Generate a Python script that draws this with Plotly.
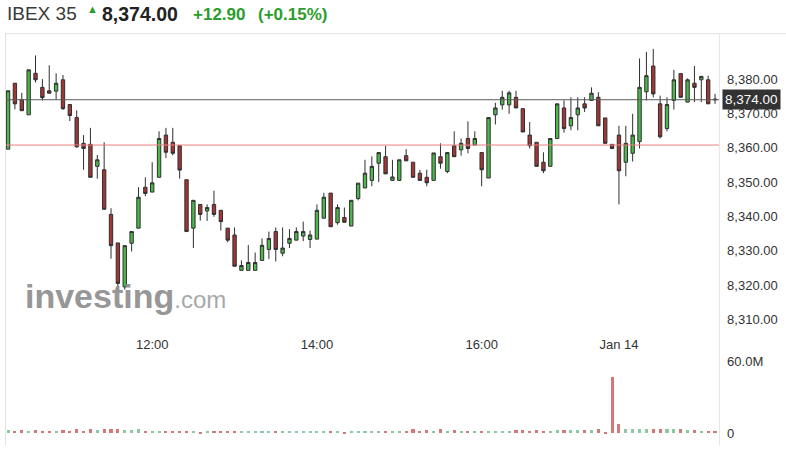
import pandas as pd
import plotly.graph_objects as go

# 5 minute bars, Jan 13 10:15 -> 17:35 and Jan 14 09:00 -> 10:10
day1 = pd.date_range("2016-01-13 10:15", "2016-01-13 17:35", freq="5min")
day2 = pd.date_range("2016-01-14 09:00", "2016-01-14 10:10", freq="5min")
times = day1.append(day2).strftime("%Y-%m-%d %H:%M").tolist()

opens = [8359.6, 8378.8, 8374.0, 8369.6, 8381.7, 8377.6, 8376.6, 8376.5, 8379.8, 8372.6,
         8368.8, 8361.3, 8361.0, 8354.6, 8353.6, 8340.6, 8332.3, 8319.5, 8332.2, 8336.6,
         8348.5, 8347.1, 8351.4, 8363.7, 8361.6, 8360.6, 8350.7, 8336.6, 8343.5, 8341.6,
         8343.5, 8341.8, 8336.6, 8334.6, 8324.3, 8324.3, 8324.3, 8327.2, 8330.4, 8335.6,
         8329.3, 8332.2, 8333.1, 8334.3, 8333.3, 8333.4, 8339.5, 8346.8, 8338.2, 8339.7,
         8337.2, 8345.2, 8348.3, 8350.5, 8355.5, 8357.4, 8350.5, 8350.5, 8357.7, 8355.8,
         8352.6, 8351.4, 8350.5, 8357.4, 8353.1, 8360.6, 8359.4, 8362.7, 8360.8, 8358.6,
         8351.2, 8369.6, 8372.5, 8372.5, 8374.7, 8371.4, 8363.7, 8361.6, 8355.8, 8354.6,
         8362.7, 8371.6, 8366.4, 8369.6, 8372.8, 8373.8, 8374.7, 8368.7, 8361.0, 8363.7,
         8355.8, 8358.4, 8361.8, 8376.3, 8383.8, 8372.8, 8365.6, 8373.8, 8381.6, 8373.3,
         8378.8, 8379.8, 8379.8, 8374.2]
highs = [8376.6, 8378.8, 8376.0, 8382.7, 8386.9, 8380.0, 8384.0, 8381.7, 8381.2, 8372.6,
         8370.9, 8363.7, 8365.8, 8357.9, 8361.6, 8342.4, 8332.3, 8331.5, 8335.6, 8348.5,
         8351.4, 8355.8, 8364.8, 8365.8, 8365.8, 8360.6, 8350.7, 8344.7, 8343.5, 8343.5,
         8347.5, 8341.8, 8336.6, 8336.8, 8327.2, 8331.7, 8329.5, 8333.6, 8335.6, 8336.8,
         8336.8, 8336.3, 8336.8, 8338.5, 8335.9, 8343.5, 8346.9, 8346.8, 8343.5, 8342.6,
         8344.7, 8349.7, 8356.5, 8357.5, 8358.6, 8360.6, 8356.5, 8356.5, 8359.6, 8355.8,
         8353.6, 8353.6, 8358.5, 8361.3, 8358.6, 8364.8, 8362.7, 8367.7, 8364.8, 8358.6,
         8368.8, 8373.1, 8376.6, 8376.6, 8376.6, 8371.4, 8367.5, 8361.6, 8358.7, 8362.7,
         8372.8, 8373.8, 8374.7, 8374.7, 8374.7, 8377.6, 8376.2, 8368.7, 8361.0, 8366.4,
         8366.4, 8369.9, 8386.0, 8387.9, 8388.8, 8375.2, 8374.7, 8382.7, 8381.6, 8380.2,
         8383.8, 8380.8, 8381.0, 8375.7]
lows = [8359.6, 8371.2, 8370.8, 8369.6, 8379.0, 8373.8, 8375.9, 8374.0, 8371.0, 8367.8,
        8360.0, 8353.6, 8351.4, 8351.0, 8342.0, 8327.7, 8318.6, 8318.7, 8329.8, 8336.6,
        8345.9, 8347.1, 8351.4, 8357.0, 8357.8, 8351.0, 8335.6, 8330.8, 8338.8, 8338.7,
        8339.9, 8335.9, 8332.5, 8325.5, 8324.3, 8324.3, 8324.3, 8327.2, 8327.6, 8326.9,
        8328.4, 8330.8, 8333.1, 8332.8, 8330.8, 8333.4, 8339.5, 8337.0, 8337.6, 8338.3,
        8337.2, 8344.7, 8348.3, 8348.8, 8350.0, 8352.4, 8350.5, 8350.5, 8356.2, 8351.4,
        8350.5, 8348.8, 8350.5, 8353.9, 8352.6, 8357.4, 8357.7, 8358.4, 8360.8, 8348.8,
        8351.2, 8366.8, 8371.1, 8369.9, 8371.6, 8364.6, 8359.8, 8354.6, 8352.6, 8354.6,
        8362.7, 8364.4, 8365.1, 8365.1, 8370.4, 8373.8, 8366.4, 8361.3, 8359.8, 8343.5,
        8351.7, 8356.0, 8359.8, 8373.8, 8374.7, 8362.7, 8364.8, 8371.1, 8374.7, 8373.3,
        8373.3, 8373.3, 8372.8, 8372.8]
closes = [8376.6, 8372.8, 8370.8, 8382.7, 8379.8, 8374.6, 8375.9, 8378.8, 8371.4, 8369.4,
          8360.3, 8359.8, 8351.4, 8356.5, 8342.1, 8331.5, 8320.5, 8331.5, 8335.6, 8345.6,
          8346.7, 8349.8, 8362.7, 8358.7, 8358.4, 8353.5, 8335.6, 8344.7, 8340.6, 8342.6,
          8340.6, 8338.5, 8333.1, 8325.5, 8325.7, 8326.6, 8326.6, 8331.6, 8333.6, 8330.4,
          8330.8, 8333.6, 8335.6, 8335.6, 8334.6, 8341.8, 8345.6, 8337.0, 8342.6, 8338.3,
          8344.7, 8349.7, 8352.6, 8354.6, 8358.6, 8352.4, 8351.5, 8356.5, 8356.2, 8351.4,
          8350.5, 8349.8, 8358.5, 8355.5, 8358.6, 8357.4, 8361.3, 8359.8, 8362.7, 8353.6,
          8368.8, 8371.6, 8374.7, 8376.0, 8371.6, 8364.6, 8360.6, 8354.6, 8353.3, 8362.7,
          8372.8, 8365.6, 8368.8, 8371.6, 8371.6, 8375.9, 8366.4, 8361.3, 8359.8, 8353.3,
          8361.3, 8363.7, 8377.6, 8381.0, 8375.7, 8363.2, 8372.6, 8379.8, 8374.7, 8379.8,
          8377.6, 8380.8, 8372.8, 8374.0]

# volume in millions
volumes = [2.7, 2.0, 2.7, 2.0, 2.3, 2.0, 2.0, 2.0, 2.3, 2.0,
           3.5, 2.0, 3.6, 2.3, 3.5, 3.8, 3.8, 2.3, 2.3, 3.0,
           2.0, 2.0, 2.0, 2.0, 2.0, 2.0, 2.0, 2.0, 0.2, 2.0,
           2.0, 2.0, 2.0, 2.0, 2.0, 2.0, 2.0, 2.0, 2.0, 2.0,
           2.0, 2.0, 2.0, 2.0, 2.0, 2.0, 2.0, 2.0, 2.0, 0.2,
           2.0, 2.0, 2.0, 2.0, 2.0, 2.0, 2.0, 2.0, 2.0, 3.3,
           2.0, 2.3, 2.0, 3.0, 2.0, 2.3, 2.0, 2.0, 2.0, 2.0,
           2.0, 2.0, 2.0, 2.0, 2.3, 2.3, 2.0, 2.3, 2.0, 2.0,
           2.3, 2.3, 2.3, 2.3, 2.3, 2.3, 3.5, 0.3, 47.0, 7.8,
           3.5, 3.5, 3.5, 3.5, 3.5, 3.5, 3.5, 3.5, 3.8, 2.3,
           2.3, 2.0, 2.0, 2.0]

last_price = 8374.00
prev_close = 8360.8
price_ticks = [8310, 8320, 8330, 8340, 8350, 8360, 8370, 8380]
time_ticks = ["2016-01-13 12:00", "2016-01-13 14:00", "2016-01-13 16:00", "2016-01-14 09:00"]
time_labels = ["12:00", "14:00", "16:00", "Jan 14"]

W, H = 786, 450
FONT = "Arial, Liberation Sans, sans-serif"
GREEN_TXT = "#2a9d2a"


def px_x(x):
    return x / W


def px_y(y):
    return 1 - y / H


vol_colors = ["#8cc7a6" if c >= o else "#d27878" for o, c in zip(opens, closes)]

fig = go.Figure()
fig.add_trace(go.Candlestick(
    x=times, open=opens, high=highs, low=lows, close=closes,
    increasing=dict(fillcolor="#4cb84c", line=dict(color="#2f2f2f", width=1)),
    decreasing=dict(fillcolor="#a33535", line=dict(color="#2f2f2f", width=1)),
    whiskerwidth=0, showlegend=False, yaxis="y"))
fig.add_trace(go.Bar(
    x=times, y=volumes, marker=dict(color=vol_colors, line=dict(width=0)),
    width=0.45, showlegend=False, yaxis="y2"))

fig.update_layout(
    width=W, height=H,
    margin=dict(l=0, r=0, t=0, b=0),
    paper_bgcolor="white", plot_bgcolor="white",
    font=dict(family=FONT, size=13, color="#333"),
    xaxis=dict(type="category", domain=[px_x(6), px_x(719.5)], range=[-0.3, 103.65],
               tickmode="array", tickvals=time_ticks, ticktext=time_labels,
               showgrid=False, zeroline=False, showline=False,
               ticks="outside", ticklen=6, tickcolor="rgba(0,0,0,0)",
               rangeslider=dict(visible=False), anchor="y"),
    yaxis=dict(domain=[px_y(330), px_y(34)], range=[8308.0, 8393.25], side="right",
               tickmode="array", tickvals=price_ticks,
               ticktext=[f"{v:,.2f}" for v in price_ticks],
               showgrid=False, zeroline=False, showline=False,
               ticks="outside", ticklen=4, tickcolor="rgba(0,0,0,0)"),
    yaxis2=dict(domain=[px_y(441), px_y(357)], range=[-2.47, 66.6], side="right",
                anchor="x", tickmode="array", tickvals=[0, 60], ticktext=["0", "60.0M"],
                showgrid=False, zeroline=False, showline=False,
                ticks="outside", ticklen=4, tickcolor="rgba(0,0,0,0)"),
    bargap=0,
)

# reference lines
fig.add_shape(type="line", xref="paper", yref="y", x0=px_x(6), x1=px_x(719.5),
              y0=last_price, y1=last_price, line=dict(color="#5a5a5a", width=1))
fig.add_shape(type="line", xref="paper", yref="y", x0=px_x(6), x1=px_x(719.5),
              y0=prev_close, y1=prev_close, line=dict(color="#eb8080", width=1))

# frame
fig.add_shape(type="line", xref="paper", yref="paper", x0=px_x(5), x1=1,
              y0=px_y(34), y1=px_y(34), line=dict(color="#e2e2e2", width=1))
fig.add_shape(type="line", xref="paper", yref="paper", x0=px_x(5.5), x1=px_x(5.5),
              y0=px_y(34), y1=0, line=dict(color="#e2e2e2", width=1))
fig.add_shape(type="line", xref="paper", yref="paper", x0=px_x(719.5), x1=px_x(719.5),
              y0=px_y(34), y1=0, line=dict(color="#e6e6e6", width=1))

# last price tag
fig.add_annotation(xref="paper", yref="y", x=px_x(722), y=last_price, xanchor="left",
                   text=f"{last_price:,.2f}", showarrow=False, bgcolor="#333333",
                   borderpad=2, font=dict(color="white", size=13.5, family=FONT))

# watermark
fig.add_annotation(xref="paper", yref="paper", x=px_x(23), y=px_y(299), xanchor="left",
                   yanchor="middle", showarrow=False,
                   text="<b>investing</b><span style='font-size:24px;color:#a0a0a0'>.com</span>",
                   font=dict(size=34, color="#8c8c8c", family=FONT), opacity=0.9)

# header
fig.add_annotation(xref="paper", yref="paper", x=px_x(5), y=px_y(14), xanchor="left",
                   yanchor="middle", showarrow=False, text="IBEX 35",
                   font=dict(size=19, color="#3a3a3a", family=FONT))
fig.add_annotation(xref="paper", yref="paper", x=px_x(85), y=px_y(9), xanchor="left",
                   yanchor="middle", showarrow=False, text="▲",
                   font=dict(size=11, color=GREEN_TXT, family=FONT))
fig.add_annotation(xref="paper", yref="paper", x=px_x(100), y=px_y(14), xanchor="left",
                   yanchor="middle", showarrow=False, text="<b>8,374.00</b>",
                   font=dict(size=19.5, color="#222", family=FONT))
fig.add_annotation(xref="paper", yref="paper", x=px_x(191), y=px_y(14.5), xanchor="left",
                   yanchor="middle", showarrow=False, text="<b>+12.90</b>",
                   font=dict(size=17, color=GREEN_TXT, family=FONT))
fig.add_annotation(xref="paper", yref="paper", x=px_x(256), y=px_y(14.5), xanchor="left",
                   yanchor="middle", showarrow=False, text="<b>(+0.15%)</b>",
                   font=dict(size=17, color=GREEN_TXT, family=FONT))

# the page body has a default 8px margin; drop it so the chart sits at the window origin
fig.write_html("out.html", config={"displayModeBar": False},
               post_script="document.body.style.margin='0';")
